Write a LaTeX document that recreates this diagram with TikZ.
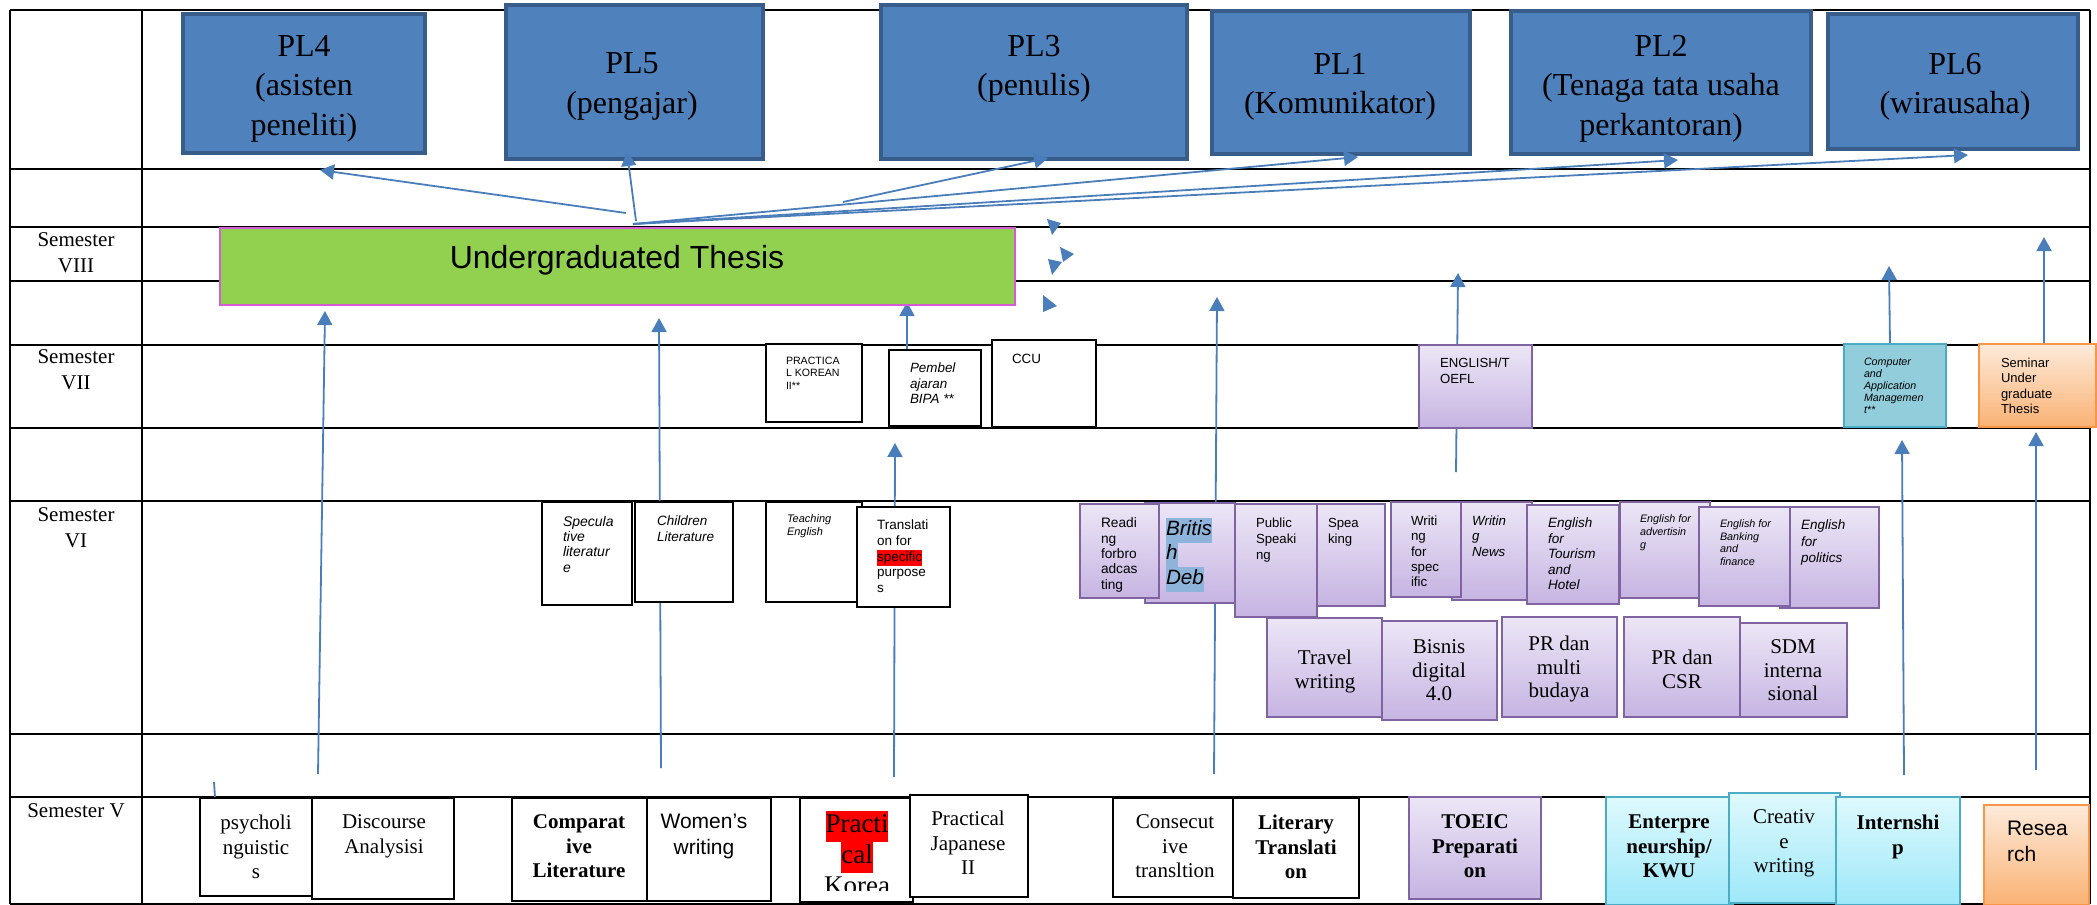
\documentclass[tikz,border=0pt]{standalone}
\usepackage{fontspec}
\setmainfont{Liberation Serif}
\newfontfamily\arial{Liberation Sans}
\usetikzlibrary{arrows.meta}
\definecolor{arr}{RGB}{74,126,187}
\definecolor{plfill}{RGB}{79,129,189}
\definecolor{pldraw}{RGB}{56,93,138}
\definecolor{purtop}{RGB}{236,230,246}
\definecolor{purbot}{RGB}{198,180,226}
\definecolor{purdraw}{RGB}{128,100,162}
\definecolor{cytop}{RGB}{222,249,253}
\definecolor{cybot}{RGB}{158,232,249}
\definecolor{cydraw}{RGB}{75,172,198}
\definecolor{ortop}{RGB}{253,234,218}
\definecolor{orbot}{RGB}{250,178,116}
\definecolor{ordraw}{RGB}{247,150,70}
\definecolor{tealfill}{RGB}{146,205,220}
\definecolor{grfill}{RGB}{146,208,80}
\definecolor{grdraw}{RGB}{214,92,214}
\definecolor{hlb}{RGB}{142,180,220}
\newcommand\fsz[2]{\fontsize{#1}{#2}\selectfont}
\newcommand\hlt[2]{{\setlength\fboxsep{0pt}\colorbox{#1}{\strut #2}}}
\newcommand\bx[6]{\node[#2, minimum width={#5pt-#3pt}, minimum height={#6pt-#4pt}] (#1) at (#3,#4) {};}
\newcommand\txl[5]{\node[tleft,#2] (#1) at (#3,#4) {#5};}
\newcommand\txc[5]{\node[tcent,#2] (#1) at (#3,#4) {#5};}
\tikzset{
  boxbase/.style={rectangle, anchor=north west, inner sep=0, outer sep=0},
  plain/.style={boxbase, draw=black, line width=2pt, fill=white},
  pur/.style={boxbase, draw=purdraw, line width=2pt, top color=purtop, bottom color=purbot},
  cyan/.style={boxbase, draw=cydraw, line width=2pt, top color=cytop, bottom color=cybot},
  orng/.style={boxbase, draw=ordraw, line width=2pt, top color=ortop, bottom color=orbot},
  teal/.style={boxbase, draw=cydraw, line width=2pt, fill=tealfill},
  plbox/.style={boxbase, draw=pldraw, line width=4pt, fill=plfill},
  grbox/.style={boxbase, draw=grdraw, line width=2pt, fill=grfill},
  tleft/.style={anchor=north west, inner sep=0, outer sep=0, align=left},
  tcent/.style={anchor=north, inner sep=0, outer sep=0, align=center},
  grid/.style={line width=2.6pt, black},
  conn/.style={draw=arr, line width=1.8pt, -{Triangle[length=14pt,width=15pt]}, fill=arr},
  stub/.style={draw=arr, line width=1.8pt},
  times21/.style={font=\fsz{21}{24.5}},
  times21b/.style={font=\bfseries\fsz{21}{24.5}},
  pltext/.style={font=\fsz{32}{39.5}},
}
\begin{document}
\begin{tikzpicture}[x=1pt,y=-1pt]
\useasboundingbox (0,0) rectangle (2097,905);
% table
\foreach \yy in {10,169,227,281,345,428,501,734,797,904}
  \draw[grid] (10,\yy) -- (2090,\yy);
\foreach \xx in {10,142,2090}
  \draw[grid] (\xx,10) -- (\xx,904);
% row labels
\txc{s8}{times21,font=\fsz{21}{26}}{76}{233}{Semester\\VIII}
\txc{s7}{times21,font=\fsz{21}{26}}{76}{350}{Semester\\VII}
\txc{s6}{times21,font=\fsz{21}{26}}{76}{508}{Semester\\VI}
\txc{s5}{times21,font=\fsz{21}{26}}{76}{804}{Semester V}
% vertical connectors (behind boxes)
\coordinate (a1s) at (318,774); \coordinate (a1e) at (325,311);
\coordinate (a2s) at (661,768); \coordinate (a2e) at (659,318);
\coordinate (a3s) at (894,777); \coordinate (a3e) at (895,443);
\coordinate (a4s) at (907,350); \coordinate (a4e) at (907,302);
\coordinate (a5s) at (1214,774); \coordinate (a5e) at (1217,297);
\coordinate (a6s) at (1456,472); \coordinate (a6e) at (1458,273);
\coordinate (a7s) at (1904,775); \coordinate (a7e) at (1902,440);
\coordinate (a8s) at (1890,344); \coordinate (a8e) at (1889,266);
\coordinate (a9s) at (2036,770); \coordinate (a9e) at (2036,432);
\coordinate (a10s) at (2044,344); \coordinate (a10e) at (2044,237);
\coordinate (st1) at (214,782); \coordinate (st2) at (215,797);
\foreach \i in {1,...,10} \draw[conn] (a\i s) -- (a\i e);
\draw[stub] (st1) -- (st2);
% Semester VII boxes
\bx{pk2}{plain}{766}{344}{862}{422}
\bx{bipa}{plain}{889}{350}{981}{426}
\bx{ccu}{plain}{992}{340}{1096}{427}
\bx{toefl}{pur}{1419}{345}{1532}{428}
\bx{cam}{teal}{1844}{344}{1946}{427}
\bx{sem}{orng}{1979}{344}{2096}{427}
\txl{pk2t}{font=\arial\fsz{10.6}{12.5}}{786}{357}{PRACTICA\\L KOREAN\\II**}
\txl{bipat}{font=\arial\itshape\fsz{13.4}{15.5}}{910}{363}{Pembel\\ajaran\\BIPA **}
\txl{ccut}{font=\arial\fsz{13.4}{15.5}}{1012}{354}{CCU}
\txl{toeflt}{font=\arial\fsz{13.2}{16}}{1440}{358}{ENGLISH/T\\OEFL}
\txl{camt}{font=\arial\itshape\fsz{10.7}{12}}{1864}{358}{Computer\\and\\Application\\Managemen\\t**}
\txl{semt}{font=\arial\fsz{13}{15.3}}{2001}{358}{Seminar\\Under\\graduate\\Thesis}
% Semester VI boxes
\bx{spec}{plain}{542}{502}{632}{605}
\bx{child}{plain}{635}{502}{733}{602}
\bx{teach}{plain}{766}{502}{862}{602}
\bx{tsp}{plain}{857}{507}{950}{607}
\bx{brit}{pur}{1145}{503}{1235}{603}
\bx{read}{pur}{1080}{504}{1159}{598}
\bx{pub}{pur}{1235}{504}{1317}{617}
\bx{spk}{pur}{1317}{504}{1385}{606}
\bx{wnews}{pur}{1452}{502}{1532}{600}
\bx{wfs}{pur}{1391}{502}{1461}{597}
\bx{eth}{pur}{1527}{505}{1619}{604}
\bx{eadv}{pur}{1620}{502}{1710}{598}
\bx{epol}{pur}{1780}{507}{1879}{608}
\bx{ebank}{pur}{1699}{507}{1790}{606}
\bx{travel}{pur}{1267}{618}{1382}{717}
\bx{bisnis}{pur}{1382}{621}{1497}{720}
\bx{prmb}{pur}{1502}{617}{1617}{717}
\bx{prcsr}{pur}{1624}{617}{1740}{717}
\bx{sdm}{pur}{1740}{623}{1847}{717}
\txl{spect}{font=\arial\itshape\fsz{14}{15.3}}{563}{516}{Specula\\tive\\literatur\\e}
\txl{childt}{font=\arial\itshape\fsz{13.5}{16}}{657}{516}{Children\\Literature}
\txl{teacht}{font=\arial\itshape\fsz{11}{13}}{787}{515}{Teaching\\English}
\txl{tspt}{font=\arial\fsz{13.5}{15.7}}{877}{520}{Translati\\on for\\\hlt{red}{specific}\\purpose\\s}
\txl{readt}{font=\arial\fsz{13.7}{15.3}}{1101}{518}{Readi\\ng\\forbro\\adcas\\ting}
\txl{britt}{font=\arial\itshape\fsz{20.7}{24.5}}{1166}{518}{\hlt{hlb}{Britis}\\\hlt{hlb}{h}\\\hlt{hlb}{Deb}}
\txl{pubt}{font=\arial\fsz{13.2}{16}}{1256}{518}{Public\\Speaki\\ng}
\txl{spkt}{font=\arial\fsz{13.2}{16}}{1328}{518}{Spea\\king}
\txl{wfst}{font=\arial\fsz{13.3}{15.3}}{1411}{516}{Writi\\ng\\for\\spec\\ific}
\txl{wnewst}{font=\arial\itshape\fsz{13.3}{15.3}}{1472}{516}{Writin\\g\\News}
\txl{etht}{font=\arial\itshape\fsz{13.5}{15.5}}{1548}{518}{English\\for\\Tourism\\and\\Hotel}
\txl{eadvt}{font=\arial\itshape\fsz{10.8}{13}}{1640}{515}{English for\\advertisin\\g}
\txl{ebankt}{font=\arial\itshape\fsz{10.8}{12.5}}{1720}{520}{English for\\Banking\\and\\finance}
\txl{epolt}{font=\arial\itshape\fsz{13.5}{16.5}}{1801}{520}{English\\for\\politics}
\txc{travelt}{font=\fsz{21}{23.5}}{1325}{650}{Travel\\writing}
\txc{bisnist}{font=\fsz{21}{23.5}}{1439}{640}{Bisnis\\digital\\4.0}
\txc{prmbt}{font=\fsz{21}{23.5}}{1559}{636}{PR dan\\multi\\budaya}
\txc{prcsrt}{font=\fsz{21}{23.5}}{1682}{650}{PR dan\\CSR}
\txc{sdmt}{font=\fsz{21}{23.5}}{1793}{640}{SDM\\interna\\sional}
% Semester V boxes
\bx{psy}{plain}{200}{798}{312}{896}
\bx{disc}{plain}{312}{798}{454}{899}
\bx{comp}{plain}{512}{798}{647}{901}
\bx{women}{plain}{647}{798}{771}{901}
\bx{pkor}{plain}{800}{798}{913}{902}
\bx{pjap}{plain}{910}{795}{1028}{897}
\bx{cons}{plain}{1113}{798}{1233}{897}
\bx{lit}{plain}{1233}{798}{1359}{898}
\bx{toeic}{pur}{1409}{797}{1541}{899}
\bx{kwu}{cyan}{1606}{797}{1733}{905}
\bx{creat}{cyan}{1729}{793}{1840}{903}
\bx{intern}{cyan}{1836}{797}{1960}{905}
\bx{res}{orng}{1984}{805}{2089}{905}
\txc{psyt}{times21}{256}{815}{psycholi\\nguistic\\s}
\txc{disct}{times21}{384}{815}{Discourse\\Analysisi}
\txc{compt}{times21b}{579}{815}{Comparat\\ive\\Literature}
\txc{woment}{font=\arial\fsz{21}{26}}{704}{814}{Women’s\\writing}
\begin{scope}
\clip (801,799) rectangle (912,890);
\txc{pkort}{font=\fsz{27}{31}}{857}{811}{\hlt{red}{Practi}\\\hlt{red}{cal}\\Korea}
\end{scope}
\txc{pjapt}{times21}{968}{811}{Practical\\Japanese\\II}
\begin{scope}
\clip (1114,799) rectangle (1232,895);
\txc{const}{times21}{1175}{815}{Consecut\\ive\\transltion\\--}
\end{scope}
\txc{litt}{times21b}{1296}{815}{Literary\\Translati\\on}
\txc{toeict}{times21b}{1475}{815}{TOEIC\\Preparati\\on}
\txc{kwut}{times21b}{1669}{815}{Enterpre\\neurship/\\KWU}
\txc{creatt}{times21}{1784}{810}{Creativ\\e\\writing}
\txc{internt}{times21b}{1898}{815}{Internshi\\p}
\txl{rest}{font=\arial\fsz{21}{26}}{2007}{821}{Resea\\rch}
% thesis
\bx{thesis}{grbox}{220}{228}{1015}{305}
\node[anchor=base, inner sep=0, font=\arial\fsz{32}{38}] (thesist) at (617,268) {Undergraduated Thesis};
% PL boxes
\bx{pl4}{plbox}{183}{14}{425}{153}
\bx{pl5}{plbox}{506}{5}{763}{159}
\bx{pl3}{plbox}{881}{5}{1187}{159}
\bx{pl1}{plbox}{1212}{11}{1470}{154}
\bx{pl2}{plbox}{1511}{11}{1811}{154}
\bx{pl6}{plbox}{1828}{14}{2078}{149}
\txc{pl4t}{pltext}{304}{35}{PL4\\(asisten\\peneliti)}
\txc{pl5t}{pltext}{632}{53}{PL5\\(pengajar)}
\txc{pl3t}{pltext}{1034}{35}{PL3\\(penulis)}
\txc{pl1t}{pltext}{1340}{53}{PL1\\(Komunikator)}
\txc{pl2t}{pltext}{1661}{35}{PL2\\(Tenaga tata usaha\\perkantoran)}
\txc{pl6t}{pltext}{1955}{53}{PL6\\(wirausaha)}
% fan connectors
\coordinate (hub) at (633,224);
\coordinate (f4s) at (626,213); \coordinate (f4e) at (320,170);
\coordinate (f5s) at (636,221); \coordinate (f5e) at (627,152);
\coordinate (f3s) at (843,202); \coordinate (f3e) at (1048,158);
\coordinate (f1e) at (1358,157);
\coordinate (f2e) at (1678,160);
\coordinate (f6e) at (1968,155);
\draw[conn] (f4s) -- (f4e);
\draw[conn] (f5s) -- (f5e);
\draw[conn] (f3s) -- (f3e);
\draw[conn] (hub) -- (f1e);
\draw[conn] (hub) -- (f2e);
\draw[conn] (hub) -- (f6e);
% stray arrow heads
\fill[arr] (1047,219) -- (1061,223) -- (1052,235) -- cycle;
\fill[arr] (1060,247) -- (1074,254) -- (1063,262) -- cycle;
\fill[arr] (1048,259) -- (1062,262) -- (1052,275) -- cycle;
\fill[arr] (1043,295) -- (1057,306) -- (1043,312) -- cycle;
\end{tikzpicture}
\end{document}
